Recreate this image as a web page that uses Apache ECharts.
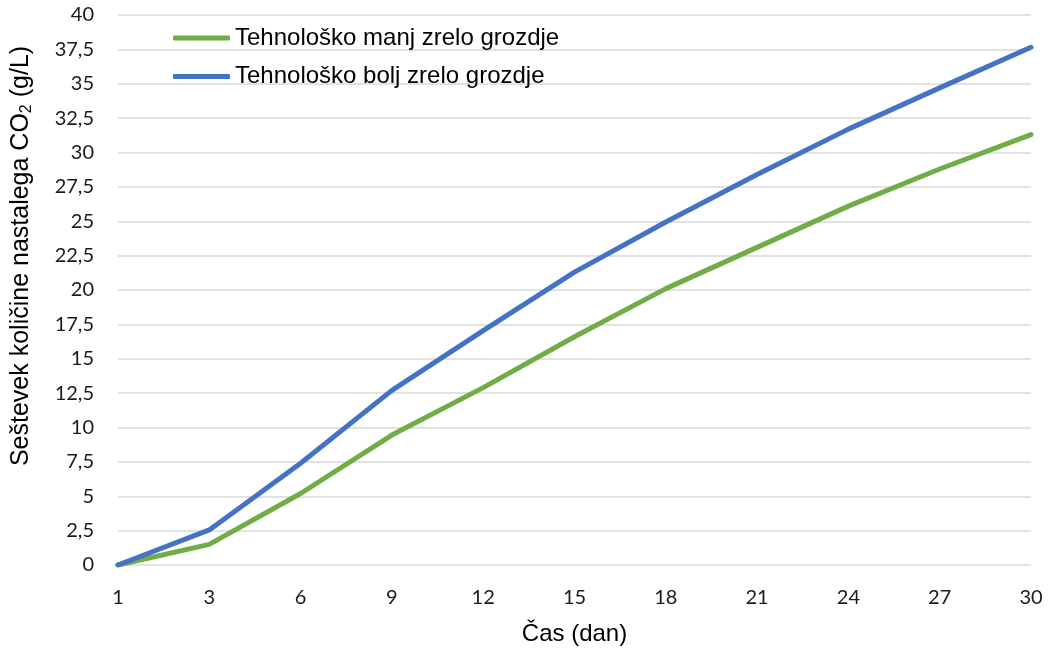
<!DOCTYPE html>
<html>
<head>
<meta charset="utf-8">
<script src="https://cdn.jsdelivr.net/npm/echarts@6/dist/echarts.min.js"></script>
<style>
  html, body { margin: 0; padding: 0; background: #fff; }
  #chart { width: 1049px; height: 652px; }
</style>
</head>
<body>
<div id="chart"></div>
<script>
// Days of fermentation (category axis)
const days = ['1', '3', '6', '9', '12', '15', '18', '21', '24', '27', '30'];

// Cumulative CO2 produced (g/L)
const lessRipe = [0, 1.5, 5.2, 9.45, 12.9, 16.6, 20.1, 23.1, 26.1, 28.8, 31.3];
const moreRipe = [0, 2.55, 7.4, 12.7, 17.05, 21.3, 24.95, 28.4, 31.7, 34.7, 37.65];

const seriesNames = ['Tehnološko manj zrelo grozdje', 'Tehnološko bolj zrelo grozdje'];
const seriesColors = ['#70ad47', '#4472c4'];

const chart = echarts.init(document.getElementById('chart'));

chart.setOption({
  animation: false,
  backgroundColor: '#ffffff',
  grid: {
    left: 118, right: 18, top: 15, bottom: 87,
    containLabel: false,
    outerBoundsMode: 'none'
  },
  legend: {
    orient: 'vertical',
    left: 168,
    top: 21,
    icon: 'roundRect',
    itemWidth: 57,
    itemHeight: 5,
    itemGap: 14.5,
    textStyle: { fontFamily: 'Liberation Sans', fontSize: 24, lineHeight: 24, color: '#000' },
    data: seriesNames
  },
  xAxis: {
    type: 'category',
    data: days,
    boundaryGap: false,
    axisLine: { show: false },
    axisTick: { show: false },
    axisLabel: { fontFamily: 'Lato', fontSize: 20, color: '#1a1a1a', margin: 23 },
    name: 'Čas (dan)',
    nameLocation: 'middle',
    nameGap: 57,
    nameTextStyle: { fontFamily: 'Liberation Sans', fontSize: 24, color: '#000' }
  },
  yAxis: {
    type: 'value',
    min: 0,
    max: 40,
    interval: 2.5,
    axisLine: { show: false },
    axisTick: { show: false },
    splitLine: { lineStyle: { color: '#d9d9d9', width: 1.5 } },
    axisLabel: {
      fontFamily: 'Lato', fontSize: 20, color: '#1a1a1a', margin: 24,
      formatter: v => String(v).replace('.', ',')
    },
    name: 'Seštevek količine nastalega CO{sub|2} (g/L)',
    nameLocation: 'middle',
    nameGap: 83,
    nameTextStyle: {
      fontFamily: 'Liberation Sans', fontSize: 25, color: '#000',
      padding: [0, 0, 0, 68],
      rich: {
        sub: { fontFamily: 'Liberation Sans', fontSize: 16, color: '#000', padding: [12, 0, 0, 0] }
      }
    }
  },
  series: [
    {
      name: seriesNames[0],
      type: 'line',
      data: lessRipe,
      symbol: 'none',
      color: seriesColors[0],
      lineStyle: { width: 5, color: seriesColors[0], cap: 'round', join: 'round' }
    },
    {
      name: seriesNames[1],
      type: 'line',
      data: moreRipe,
      symbol: 'none',
      color: seriesColors[1],
      lineStyle: { width: 5, color: seriesColors[1], cap: 'round', join: 'round' }
    }
  ]
});
</script>
</body>
</html>
